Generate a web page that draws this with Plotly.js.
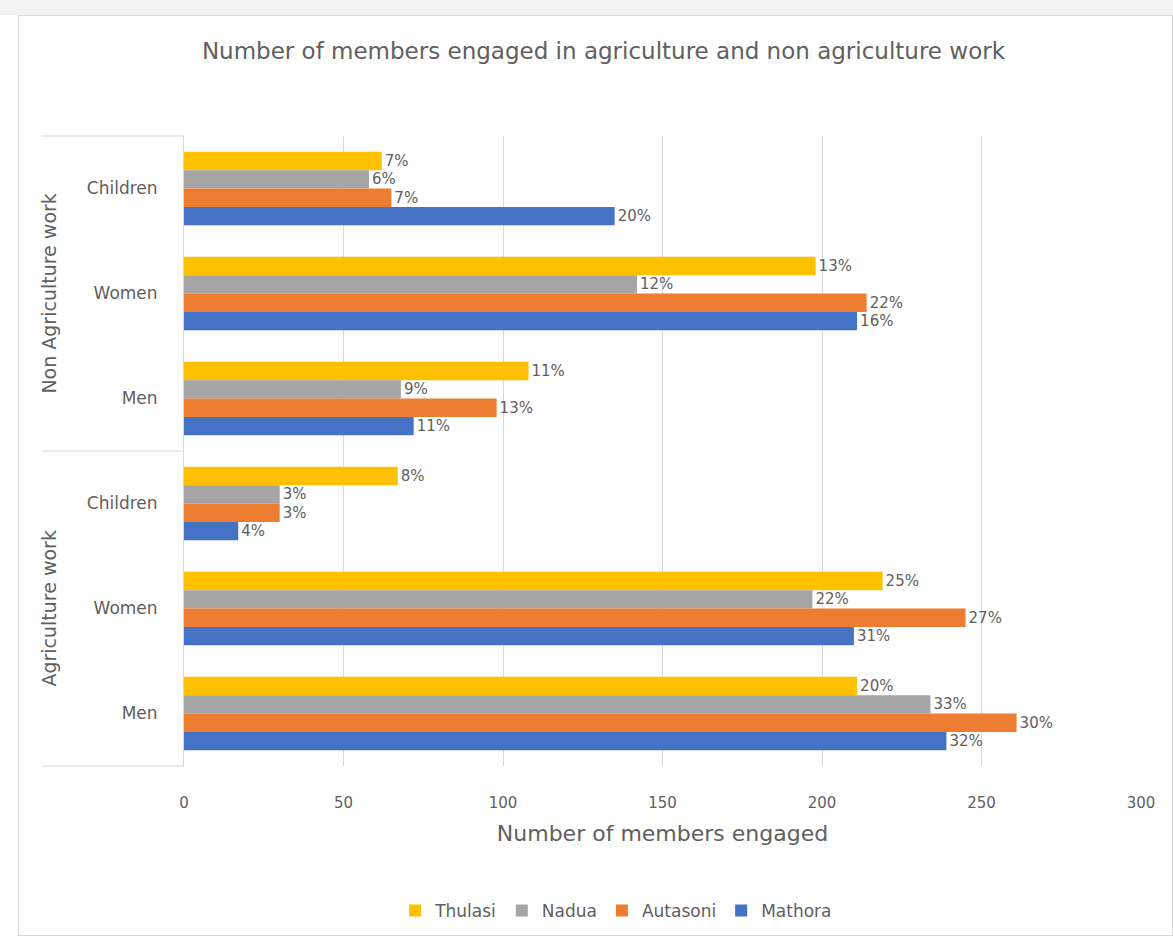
<!DOCTYPE html>
<html>
<head>
<meta charset="utf-8">
<script src="https://cdn.plot.ly/plotly-3.0.1.min.js"></script>
<style>
  html, body { margin: 0; padding: 0; background: #ffffff; }
  #topstrip { position: absolute; left: 0; top: 0; width: 1173px; height: 15px; background: #f2f2f2; }
  #chart { position: absolute; left: 18px; top: 15px; width: 1155px; height: 921px; border: 1px solid #d9d9d9; box-sizing: border-box; }
</style>
</head>
<body>
<div id="topstrip"></div>
<div id="chart"></div>
<script>
// ---- data ----
const groupNames = ["Non Agriculture work", "Agriculture work"];
const categoryKeys = ["NA-Children", "NA-Women", "NA-Men", "A-Children", "A-Women", "A-Men"];
const categoryLabels = ["Children", "Women", "Men", "Children", "Women", "Men"];
const seriesNames = ["Thulasi", "Nadua", "Autasoni", "Mathora"];

const thulasiValues = [62, 198, 108, 67, 219, 211];
const naduaValues = [58, 142, 68, 30, 197, 234];
const autasoniValues = [65, 214, 98, 30, 245, 261];
const mathoraValues = [135, 211, 72, 17, 210, 239];

const thulasiLabels = ["7%", "13%", "11%", "8%", "25%", "20%"];
const naduaLabels = ["6%", "12%", "9%", "3%", "22%", "33%"];
const autasoniLabels = ["7%", "22%", "13%", "3%", "27%", "30%"];
const mathoraLabels = ["20%", "16%", "11%", "4%", "31%", "32%"];

const xTickValues = [0, 50, 100, 150, 200, 250, 300];

// ---- styles ----
const colors = ["#FFC000", "#A5A5A5", "#ED7D31", "#4472C4"];
const fontFamily = "DejaVu Sans, Liberation Sans, sans-serif";
const textColor = "#606060";

const values = [thulasiValues, naduaValues, autasoniValues, mathoraValues];
const labels = [thulasiLabels, naduaLabels, autasoniLabels, mathoraLabels];

const traces = seriesNames.map((name, i) => ({
  type: "bar",
  orientation: "h",
  name: name,
  y: categoryKeys,
  x: values[i],
  text: labels[i],
  textposition: "outside",
  textfont: { family: fontFamily, size: 15, color: textColor },
  cliponaxis: false,
  marker: { color: colors[i] },
  hoverinfo: "x+name"
}));

const leftX = -0.149;
const layout = {
  width: 1155,
  height: 921,
  margin: { l: 165, r: 33, t: 120, b: 171 },
  paper_bgcolor: "rgba(0,0,0,0)",
  plot_bgcolor: "#ffffff",
  font: { family: fontFamily, size: 15, color: textColor },
  title: {
    text: "Number of members engaged in agriculture and non agriculture work",
    font: { family: fontFamily, size: 23, color: textColor },
    x: 0.506, xref: "container", xanchor: "center",
    y: 1 - 35 / 921, yref: "container", yanchor: "middle"
  },
  barmode: "group",
  bargap: 0.3,
  bargroupgap: 0,
  xaxis: {
    range: [0, 300],
    tickvals: xTickValues,
    showgrid: true,
    gridcolor: "#d9d9d9",
    gridwidth: 1,
    zeroline: false,
    showline: false,
    ticks: "",
    ticklabelstandoff: 26,
    tickfont: { family: fontFamily, size: 15, color: textColor },
    title: {
      text: "Number of members engaged",
      font: { family: fontFamily, size: 22, color: textColor },
      standoff: 14
    }
  },
  yaxis: {
    type: "category",
    autorange: "reversed",
    tickvals: categoryKeys,
    ticktext: categoryLabels,
    showgrid: false,
    zeroline: false,
    showline: true,
    linecolor: "#d9d9d9",
    ticks: "",
    ticklabelstandoff: 22,
    tickfont: { family: fontFamily, size: 17, color: textColor }
  },
  legend: {
    orientation: "h",
    xref: "container", yref: "container",
    x: 0.517, xanchor: "center",
    y: 1 - 895 / 921, yanchor: "middle",
    font: { family: fontFamily, size: 17, color: textColor },
    itemwidth: 30
  },
  annotations: [
    { text: groupNames[0], xref: "paper", yref: "paper", x: -0.142, xanchor: "center", y: 0.75, yanchor: "middle", textangle: -90,
      showarrow: false, font: { family: fontFamily, size: 19, color: textColor } },
    { text: groupNames[1], xref: "paper", yref: "paper", x: -0.142, xanchor: "center", y: 0.25, yanchor: "middle", textangle: -90,
      showarrow: false, font: { family: fontFamily, size: 19, color: textColor } }
  ],
  shapes: [
    { type: "line", xref: "paper", yref: "paper", x0: leftX, x1: 0, y0: 1, y1: 1, line: { color: "#d9d9d9", width: 1 } },
    { type: "line", xref: "paper", yref: "paper", x0: leftX, x1: 0, y0: 0.5, y1: 0.5, line: { color: "#d9d9d9", width: 1 } },
    { type: "line", xref: "paper", yref: "paper", x0: leftX, x1: 0, y0: 0, y1: 0, line: { color: "#d9d9d9", width: 1 } }
  ]
};

Plotly.newPlot("chart", traces, layout, { displayModeBar: false, staticPlot: true });
</script>
</body>
</html>
